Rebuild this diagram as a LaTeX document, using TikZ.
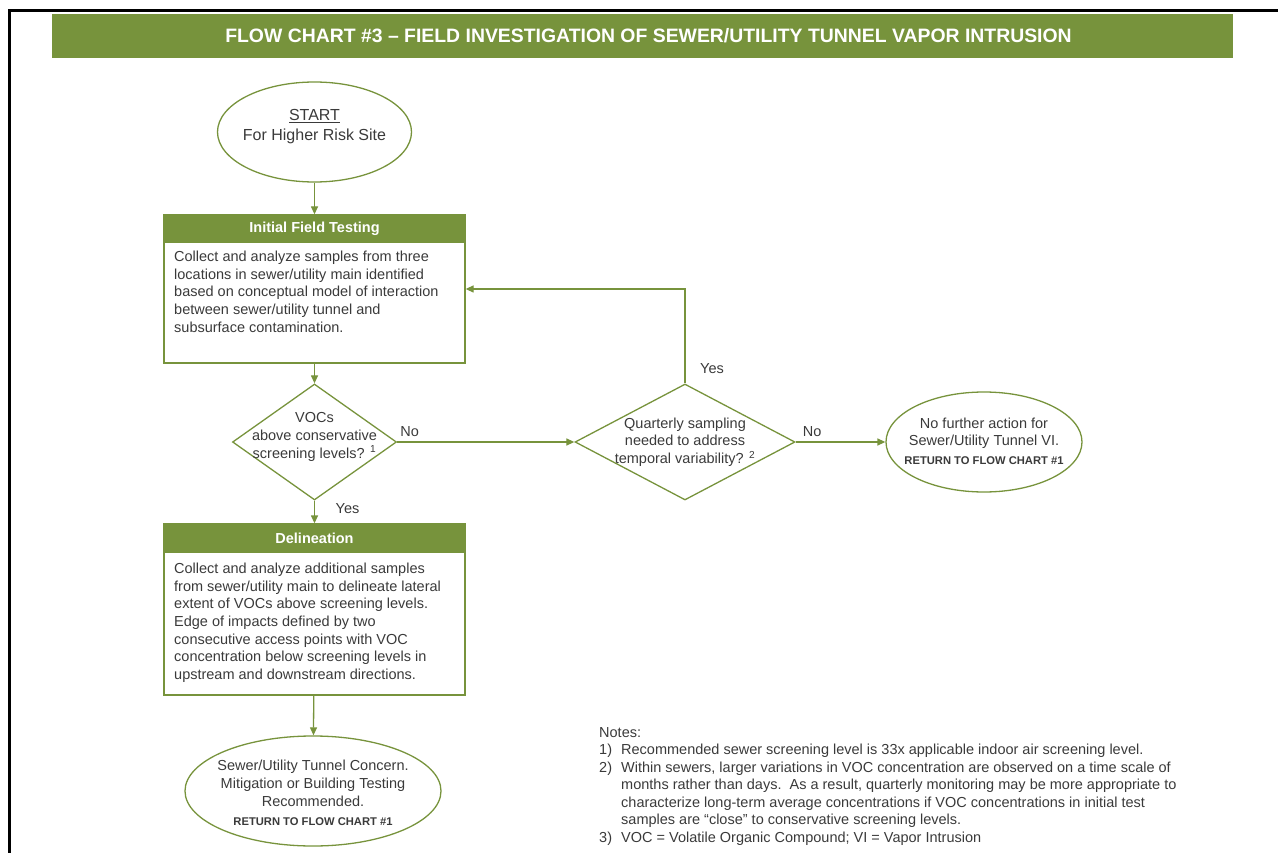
\documentclass[tikz,border=0pt]{standalone}
\usepackage{fontspec}
\setmainfont{Liberation Sans}
\usetikzlibrary{shapes.geometric,arrows.meta,positioning}

\definecolor{chartgreen}{HTML}{77933C}
\definecolor{inktext}{HTML}{3A3A3A}
\newcommand{\bodyfont}{\fontsize{14.5}{17.6}\selectfont}
\newcommand{\startfont}{\fontsize{16}{20}\selectfont}
\newcommand{\notefont}{\fontsize{14.5}{17.5}\selectfont}
\newcommand{\backfont}{\fontsize{11.2}{12}\selectfont\bfseries}

\tikzset{
  banner/.style={fill=chartgreen, text=white, font=\fontsize{19.4}{22}\selectfont\bfseries,
    minimum width=1181pt, minimum height=44pt, inner sep=0pt},
  stepbox/.style={draw=chartgreen, line width=1.3pt, minimum width=301pt, inner sep=0pt},
  stephead/.style={fill=chartgreen, draw=chartgreen, line width=1.3pt, text=white,
    font=\bodyfont\bfseries, minimum width=301pt, minimum height=27pt, inner sep=0pt},
  steptext/.style={align=left, inner sep=0pt, font=\bodyfont, text=inktext, anchor=north west},
  terminal/.style={ellipse, draw=chartgreen, line width=1.3pt, inner sep=0pt},
  decision/.style={diamond, draw=chartgreen, line width=1.3pt, inner sep=0pt},
  midtext/.style={align=center, inner sep=0pt, font=\bodyfont, text=inktext},
  answer/.style={inner sep=0pt, font=\bodyfont, text=inktext},
  flow/.style={draw=chartgreen, line width=1.3pt, -{Triangle[length=8pt,width=7pt]}}
}

\begin{document}
\begin{tikzpicture}[x=1pt, y=-1pt]
  \useasboundingbox (0,0) rectangle (1278,853);

  % frame and title
  \draw[line width=3pt] (9,853) -- (9,11) -- (1278,11);
  \node[banner] (title) at (642.5,36) {\hspace*{12pt}FLOW CHART \#3 -- FIELD INVESTIGATION OF SEWER/UTILITY TUNNEL VAPOR INTRUSION};

  % start
  \node[terminal, minimum width=194pt, minimum height=100pt] (start) at (314.5,132) {};
  \node[midtext, font=\startfont] (starttext) at (314.5,127) {\underline{START}\\For Higher Risk Site};

  % initial field testing
  \node[stepbox, minimum height=148pt] (init) at (314.5,289) {};
  \node[stephead, anchor=north] (inithead) at (init.north) {Initial Field Testing};
  \node[steptext] (inittext) at (174,251) {Collect and analyze samples from three\\
    locations in sewer/utility main identified\\
    based on conceptual model of interaction\\
    between sewer/utility tunnel and\\
    subsurface contamination.};

  % decisions
  \node[decision, minimum width=164pt, minimum height=116pt] (vocs) at (314.5,442) {};
  \node[midtext] (vocstext) at (314.5,437) {VOCs\\above conservative\\screening levels? \textsuperscript{1}};
  \node[decision, minimum width=220pt, minimum height=116pt] (quarter) at (685,442) {};
  \node[midtext] (quartertext) at (685,442) {Quarterly sampling\\needed to address\\temporal variability? \textsuperscript{2}};

  % no further action
  \node[terminal, minimum width=196pt, minimum height=100pt] (nofurther) at (984,442) {};
  \node[midtext] (nofurthertext) at (984,441) {No further action for\\Sewer/Utility Tunnel VI.\\[1pt]{\backfont RETURN TO FLOW CHART \#1}};

  % delineation
  \node[stepbox, minimum height=171pt] (delin) at (314.5,609.5) {};
  \node[stephead, anchor=north, minimum height=28pt] (delinhead) at (delin.north) {Delineation};
  \node[steptext] (delintext) at (174,563) {Collect and analyze additional samples\\
    from sewer/utility main to delineate lateral\\
    extent of VOCs above screening levels.\\
    Edge of impacts defined by two\\
    consecutive access points with VOC\\
    concentration below screening levels in\\
    upstream and downstream directions.};

  % concern
  \node[terminal, minimum width=256pt, minimum height=110pt] (concern) at (313,791) {};
  \node[midtext] (concerntext) at (313,793) {Sewer/Utility Tunnel Concern.\\Mitigation or Building Testing\\Recommended.\\[2pt]{\backfont RETURN TO FLOW CHART \#1}};

  % connectors
  \draw[flow] (start) -- (init);
  \draw[flow] (init) -- (vocs);
  \draw[flow] (vocs) -- (delin);
  \draw[flow] (vocs) -- (quarter);
  \draw[flow] (quarter) -- (nofurther);
  \draw[flow] (quarter.north) |- (init.east);
  \draw[flow] (delin) -- (concern);

  \node[answer, anchor=south west] (vocsno) at ([xshift=3pt,yshift=5pt]vocs.east) {No};
  \node[answer, anchor=north west] (vocsyes) at ([xshift=21pt,yshift=-3pt]vocs.south) {Yes};
  \node[answer, anchor=south west] (quarterno) at ([xshift=7pt,yshift=5pt]quarter.east) {No};
  \node[answer, anchor=south west] (quarteryes) at ([xshift=15pt,yshift=10pt]quarter.north) {Yes};

  % notes
  \node[align=left, inner sep=0pt, font=\notefont, text=inktext, anchor=north west] (notes) at (599,727) {Notes:\\
    \makebox[22pt][l]{1)}Recommended sewer screening level is 33x applicable indoor air screening level.\\
    \makebox[22pt][l]{2)}Within sewers, larger variations in VOC concentration are observed on a time scale of\\
    \hspace*{22pt}months rather than days.\ \ As a result, quarterly monitoring may be more appropriate to\\
    \hspace*{22pt}characterize long-term average concentrations if VOC concentrations in initial test\\
    \hspace*{22pt}samples are ``close'' to conservative screening levels.\\
    \makebox[22pt][l]{3)}VOC = Volatile Organic Compound; VI = Vapor Intrusion};
\end{tikzpicture}
\end{document}
